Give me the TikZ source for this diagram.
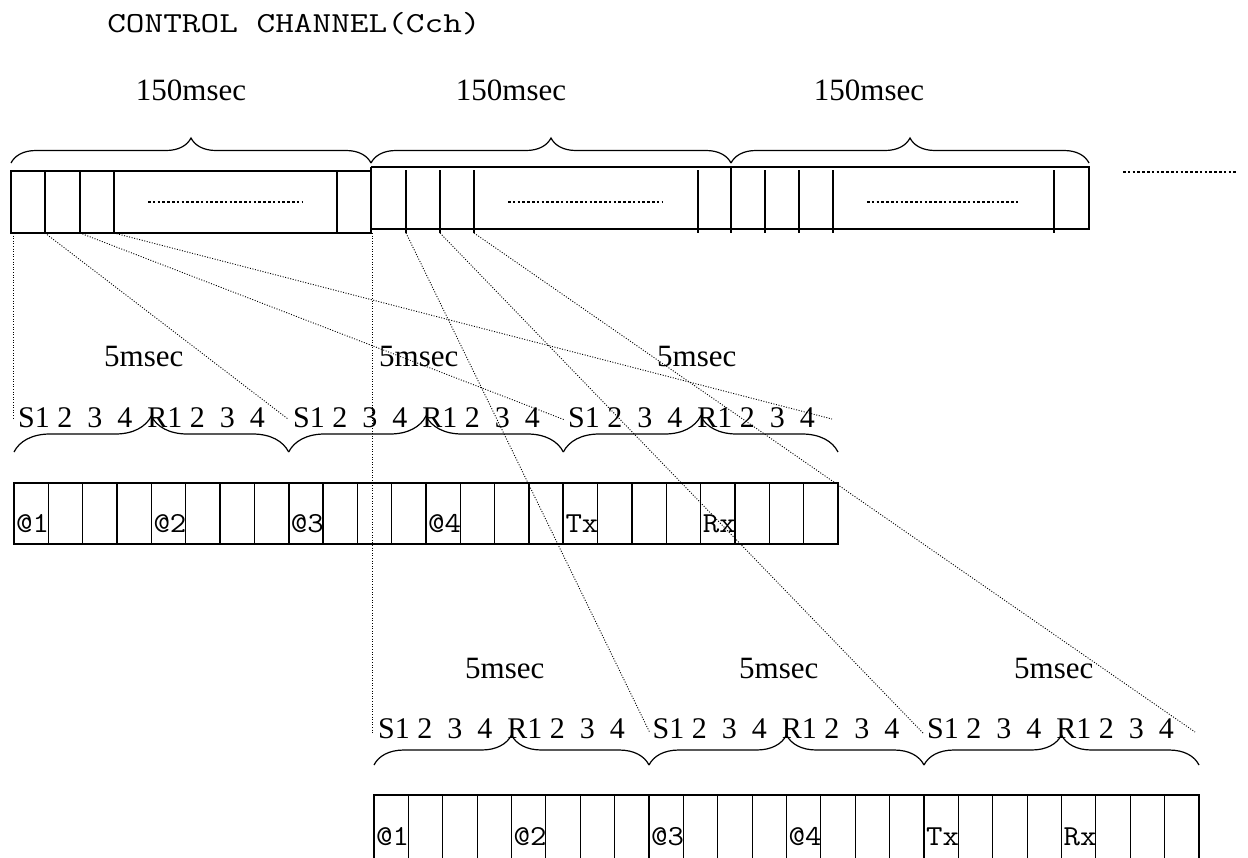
\documentclass[tikz,border=0pt]{standalone}
\usepackage{fontspec}
\setmainfont{Liberation Serif}
\usetikzlibrary{decorations.pathreplacing}
\begin{document}
\begin{tikzpicture}[x=1pt,y=-1pt,
  frame/.style={line width=1.2pt},
  thickframe/.style={line width=1.7pt},
  conn/.style={line width=0.9pt, dash pattern=on 1pt off 1.6pt},
  filldots/.style={line width=2.6pt, dash pattern=on 2.6pt off 2.2pt},
  bigbrace/.style={decorate, decoration={brace, amplitude=25pt}, line width=1.2pt},
  midbrace/.style={decorate, decoration={brace, amplitude=36pt}, line width=1.2pt},
  lowbrace/.style={decorate, decoration={brace, amplitude=30pt}, line width=1.2pt},
  title/.style={inner sep=0pt, anchor=base west, xscale=1.25, transform shape, font=\ttfamily\fontsize{29}{29}\selectfont},
  durlab/.style={inner sep=0pt, anchor=base, font=\fontsize{31}{31}\selectfont},
  shortlab/.style={inner sep=0pt, anchor=base west, font=\fontsize{31}{31}\selectfont},
  slotlab/.style={inner sep=0pt, anchor=base west, font=\fontsize{30}{30}\selectfont},
  celllab/.style={inner sep=0pt, anchor=base west, xscale=1.1, transform shape, font=\ttfamily\fontsize{29}{29}\selectfont}
]
\useasboundingbox (0,0) rectangle (1248,857);
\clip (0,0) rectangle (1248,857);

% title and durations
\node[title] (title) at (107,32) {CONTROL CHANNEL(Cch)};
\node[durlab] (d1) at (191,100) {150msec};
\node[durlab] (d2) at (511,100) {150msec};
\node[durlab] (d3) at (869,100) {150msec};

% top braces
\draw[bigbrace] (11,163) -- (371,163);
\draw[bigbrace] (371,163) -- (731,163);
\draw[bigbrace] (731,163) -- (1089,163);

% top frames
\draw[frame] (11,171) rectangle (371,233);
\foreach \x in {45,80,114,337} \draw[frame] (\x,171) -- (\x,233);
\draw[frame] (371,167) -- (1089,167) -- (1089,229) -- (371,229);
\draw[thickframe] (371,167) -- (371,233);
\draw[thickframe] (731,167) -- (731,233);
\foreach \x in {406,440,474,698,765,799,833,1054} \draw[frame] (\x,170) -- (\x,233);
\draw[filldots] (148,202) -- (302,202);
\draw[filldots] (508,202) -- (662,202);
\draw[filldots] (867,202) -- (1020,202);
\draw[filldots] (1123,172) -- (1238,172);

% connector anchor points
\coordinate (a0) at (13,233);
\coordinate (a1) at (45,233);
\coordinate (a2) at (80,233);
\coordinate (a3) at (114,233);
\coordinate (b0) at (372,233);
\coordinate (b1) at (406,233);
\coordinate (b2) at (440,233);
\coordinate (b3) at (474,233);
\coordinate (m0) at (13,418);
\coordinate (m1) at (288,419);
\coordinate (m2) at (565,420);
\coordinate (m3) at (832,419);
\coordinate (n0) at (372,733);
\coordinate (n1) at (650,733);
\coordinate (n2) at (923,733);
\coordinate (n3) at (1195,732);
\draw[conn] (a0) -- (m0);
\draw[conn] (a1) -- (m1);
\draw[conn] (a2) -- (m2);
\draw[conn] (a3) -- (m3);
\draw[conn] (b0) -- (n0);
\draw[conn] (b1) -- (n1);
\draw[conn] (b2) -- (n2);
\draw[conn] (b3) -- (n3);

% middle row
\node[shortlab] (ms1) at (104,366) {5msec};
\node[shortlab] (ms2) at (379,366) {5msec};
\node[shortlab] (ms3) at (657,366) {5msec};
\foreach \g in {0,1,2}{
  \node[slotlab] (mslot\g) at (18+275*\g,427) {S1 2~~3~~4~~R1 2~~3~~4};
  \draw[midbrace] (14+274.67*\g,452) -- (288.67+274.67*\g,452);
}
\draw[frame] (14,483) rectangle (838,544);
\foreach \i in {1,...,23} \draw[frame] (14+34.333*\i,483) -- (14+34.333*\i,544);
\draw[thickframe] (288.67,483) -- (288.67,544);
\draw[thickframe] (563.33,483) -- (563.33,544);
\foreach \lab [count=\k from 0] in {@1,@2,@3,@4,Tx,Rx}
  \node[celllab] (mc\k) at (16+137.33*\k,532) {\lab};

% bottom row
\node[shortlab] (bs1) at (465,678) {5msec};
\node[shortlab] (bs2) at (739,678) {5msec};
\node[shortlab] (bs3) at (1014,678) {5msec};
\foreach \g in {0,1,2}{
  \node[slotlab] (bslot\g) at (378+274.5*\g,738) {S1 2~~3~~4~~R1 2~~3~~4};
  \draw[lowbrace] (374+275*\g,765) -- (649+275*\g,765);
}
\draw[frame] (374,795) rectangle (1199,870);
\foreach \i in {1,...,23} \draw[frame] (374+34.375*\i,795) -- (374+34.375*\i,870);
\draw[thickframe] (649,795) -- (649,870);
\draw[thickframe] (924,795) -- (924,870);
\foreach \lab [count=\k from 0] in {@1,@2,@3,@4,Tx,Rx}
  \node[celllab] (bc\k) at (376+137.5*\k,845) {\lab};
\end{tikzpicture}
\end{document}
